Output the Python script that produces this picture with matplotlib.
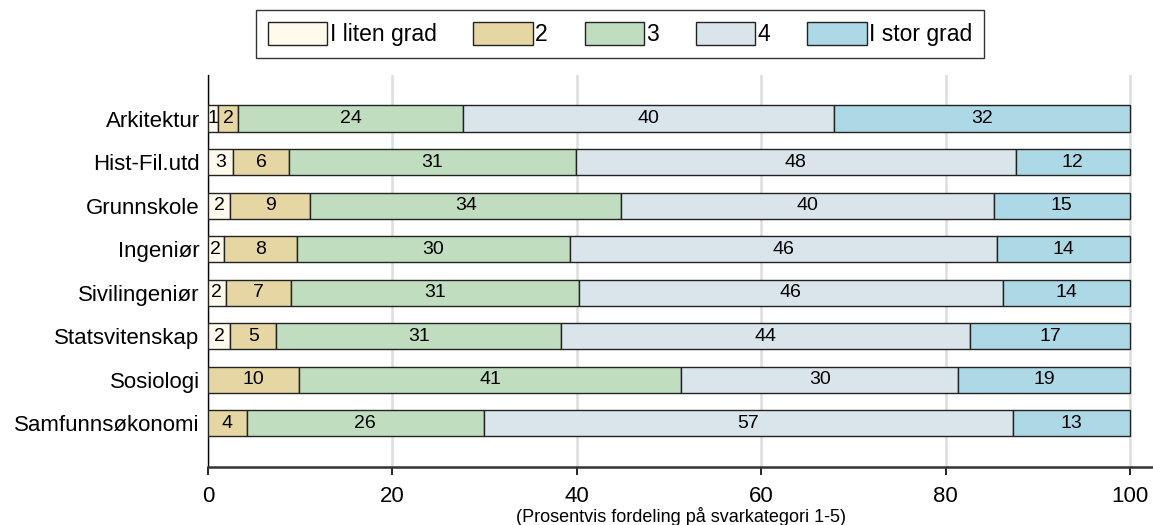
import matplotlib
matplotlib.use("Agg")
import matplotlib.pyplot as plt
import numpy as np

plt.rcParams['font.family'] = ['Liberation Sans', 'DejaVu Sans']

categories = ["Arkitektur", "Hist-Fil.utd", "Grunnskole", "Ingeniør",
              "Sivilingeniør", "Statsvitenskap", "Sosiologi", "Samfunnsøkonomi"]

legend_labels = ["I liten grad", "2", "3", "4", "I stor grad"]

# Percentage share per answer category (1-5) for each programme
cat1 = [1.1, 2.7, 2.4, 1.7, 1.9, 2.4, 0.0, 0.0]
cat2 = [2.2, 6.1, 8.7, 7.9, 7.1, 5.0, 9.9, 4.2]
cat3 = [24.4, 31.1, 33.7, 29.7, 31.2, 30.9, 41.4, 25.7]
cat4 = [40.2, 47.7, 40.4, 46.3, 46.0, 44.4, 30.1, 57.4]
cat5 = [32.1, 12.4, 14.8, 14.4, 13.8, 17.3, 18.6, 12.7]

colors = ["#FFFAEC", "#E5D6A3", "#C1DDC0", "#D9E5EB", "#ADD8E6"]

xticks = [0, 20, 40, 60, 80, 100]

fig = plt.figure(figsize=(11.53, 5.25), dpi=100)
ax = fig.add_axes([208 / 1153, (525 - 466.7) / 525, 1 - 208 / 1153, (466.7 - 75) / 525])

series = [cat1, cat2, cat3, cat4, cat5]
y = np.arange(len(categories))
left = np.zeros(len(categories))
handles = []
for vals, col, lab in zip(series, colors, legend_labels):
    vals = np.array(vals)
    bars = ax.barh(y, vals, left=left, height=0.6, color=col,
                   edgecolor="#222222", linewidth=1.0, label=lab, zorder=3)
    handles.append(bars)
    for yi, (l, v) in enumerate(zip(left, vals)):
        if v > 0:
            ax.text(l + v / 2, yi, f"{v:.0f}", ha="center", va="center",
                    fontsize=14, color="black", zorder=4)
    left = left + vals

ax.set_ylim(len(categories), -1)
ax.set_xlim(0, 102.5)
ax.set_yticks(y)
ax.set_yticklabels(categories, fontsize=16)
ax.set_xticks(xticks)
ax.set_xticklabels([str(t) for t in xticks], fontsize=16)

ax.tick_params(axis="y", length=0, pad=6)
ax.tick_params(axis="x", length=6, width=1.2, pad=8, color="black")

ax.grid(axis="x", color="#DDDDDD", linewidth=1.8, zorder=0)
ax.set_axisbelow(True)

for s in ["top", "right"]:
    ax.spines[s].set_visible(False)
ax.spines["left"].set_linewidth(1.0)
ax.spines["left"].set_color("black")
ax.spines["bottom"].set_linewidth(1.8)
ax.spines["bottom"].set_color("#333333")

ax.set_xlabel("(Prosentvis fordeling på svarkategori 1-5)", fontsize=13, labelpad=0)

leg = fig.legend(handles=handles, labels=legend_labels, loc="center",
                 bbox_to_anchor=(620 / 1153, 1 - 34 / 525), ncol=5,
                 fontsize=16.5, frameon=True, fancybox=False, shadow=False,
                 handlelength=2.6, handleheight=1.15, handletextpad=0.1,
                 columnspacing=1.6, borderpad=0.5, borderaxespad=0)
leg.get_frame().set_edgecolor("black")
leg.get_frame().set_linewidth(1.0)

fig.savefig("out.png", dpi=100)
